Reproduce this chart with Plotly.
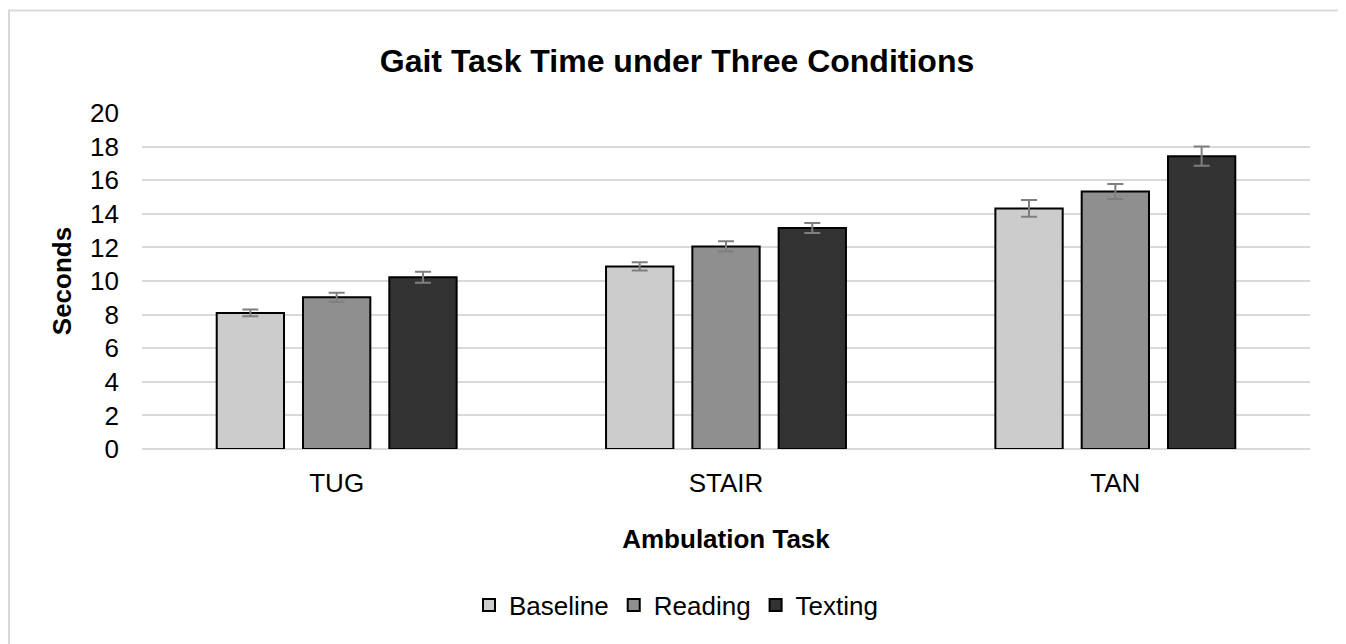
import plotly.graph_objects as go

categories = ["TUG", "STAIR", "TAN"]
baseline = [8.10, 10.87, 14.32]
reading = [9.03, 12.06, 15.33]
texting = [10.22, 13.15, 17.43]
baseline_err = [0.20, 0.24, 0.50]
reading_err = [0.27, 0.30, 0.45]
texting_err = [0.33, 0.30, 0.57]

series = [
    ("Baseline", baseline, baseline_err, "#cccccc"),
    ("Reading", reading, reading_err, "#8f8f8f"),
    ("Texting", texting, texting_err, "#333333"),
]

FONT = "Liberation Sans, Arial, sans-serif"

fig = go.Figure()
for name, vals, errs, color in series:
    fig.add_trace(go.Bar(
        name=name, x=categories, y=vals,
        marker=dict(color=color, line=dict(color="#000000", width=2)),
        error_y=dict(type="data", array=errs, visible=True,
                     color="#7f7f7f", thickness=2, width=8),
    ))

# page has an 8px body margin; figure sized to fit the window
W, H = 1338, 636
L, R, T, B = 134, 36, 105, 195
pw, ph = W - L - R, H - T - B

def px_x(p):
    return (p - L) / pw

def px_y(p):
    return (H - B - p) / ph

fig.update_layout(
    width=W, height=H,
    margin=dict(l=L, r=R, t=T, b=B),
    paper_bgcolor="white", plot_bgcolor="white",
    font=dict(family=FONT, size=26, color="#000000"),
    title=dict(text="<b>Gait Task Time under Three Conditions</b>",
               x=669 / W, xanchor="center", y=1 - 53 / H, yanchor="middle",
               font=dict(size=32, family=FONT, color="#000000")),
    barmode="group", bargap=0.335, bargroupgap=0.22,
    showlegend=True,
    legend=dict(orientation="h", x=px_x(668), xanchor="center",
                y=px_y(597), yanchor="middle",
                font=dict(size=26, family=FONT, color="#000000"),
                traceorder="normal"),
    xaxis=dict(
        title=dict(text="<b>Ambulation Task</b>", standoff=32,
                   font=dict(size=26, family=FONT)),
        showgrid=False, showline=False, ticks="",
        ticklabelstandoff=16,
        tickfont=dict(size=26, family=FONT),
    ),
    yaxis=dict(
        title=dict(text="<b>Seconds</b>", standoff=10,
                   font=dict(size=26, family=FONT)),
        range=[0, 20], dtick=2, tick0=0,
        showgrid=True, gridcolor="#d9d9d9", gridwidth=1.5,
        zeroline=True, zerolinecolor="#d9d9d9", zerolinewidth=1.5,
        showline=False, ticks="",
        ticklabelstandoff=22,
        tickfont=dict(size=26, family=FONT),
    ),
    shapes=[dict(type="rect", xref="paper", yref="paper",
                 x0=px_x(1), x1=px_x(1337), y0=px_y(700), y1=px_y(2.5),
                 line=dict(color="#d9d9d9", width=2), fillcolor="rgba(0,0,0,0)",
                 layer="below")],
)

fig.write_html("out.html")
